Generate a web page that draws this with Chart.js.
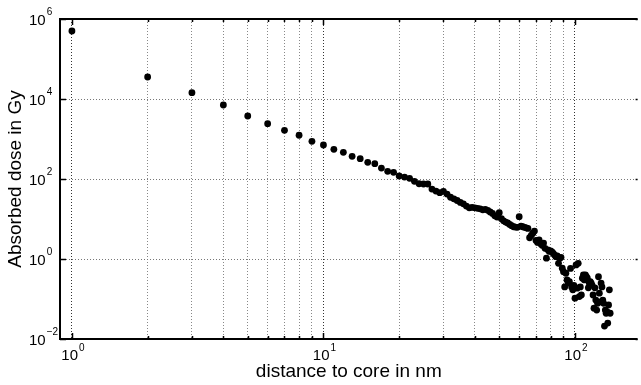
<!DOCTYPE html>
<html>
<head>
<meta charset="utf-8">
<script src="https://cdn.jsdelivr.net/npm/chart.js@4.4.0/dist/chart.umd.min.js"></script>
<style>
  html, body { margin: 0; padding: 0; background: #fff; overflow: hidden; }
  #wrap { width: 641px; height: 385px; }
</style>
</head>
<body>
<div id="wrap"><canvas id="chart" width="641" height="385"></canvas></div>
<script>
// distance to core (nm) and absorbed dose (Gy)
const distances = [
  1, 2, 3, 4, 5, 6, 7, 8, 9, 10,
  11, 12, 13, 14, 15, 16, 17, 18, 19, 20,
  21, 22, 23, 24, 25, 26, 27, 28, 29, 30,
  31, 32, 33, 34, 35, 36, 37, 38, 39, 40,
  41, 42, 43, 44, 45, 46, 47, 48, 49, 50,
  51, 52, 53, 54, 55, 56, 57, 58, 59, 60,
  61, 62, 63, 64, 65, 66, 67, 68, 69, 70,
  71, 72, 73, 74, 75, 76, 77, 78, 79, 80,
  81, 82, 83, 84, 85, 86, 87, 88, 89, 90,
  91, 92, 93, 94, 95, 96, 97, 98, 99, 100,
  101, 102, 103, 104, 105, 106, 107, 108, 109, 110,
  111, 112, 113, 114, 115, 116, 117, 118, 119, 120,
  121, 122, 123, 124, 125, 126, 127, 128, 129, 130,
  131, 132, 133, 134, 135, 136, 137, 138
];
const doses = [
  501000, 35500, 14400, 7080, 3760, 2410, 1650, 1240, 877, 708,
  552, 465, 369, 322, 261, 241, 188, 156, 147, 119,
  112, 104, 87.5, 76, 75, 75, 56, 50, 45.5, 49,
  42, 35, 32, 29, 26, 24, 21, 19, 19.5, 19,
  18.5, 18, 17, 17.5, 16.5, 15, 13.8, 12, 11.2, 14.4,
  10.2, 9, 8.4, 8, 7.3, 6.8, 6.4, 6.3, 6.2, 11.4,
  6.6, 6.4, 6.2, 6.0, 5.8, 3.4, 3.9, 4.4, 5.0, 2.9,
  2.6, 3.0, 2.4, 2.2, 2.5, 1.85, 1.05, 1.7, 1.55, 1.6,
  1.5, 1.38, 1.25, 1.14, 1.2, 0.78, 1.05, 1.1, 0.59, 0.48,
  0.2, 0.44, 0.3, 0.25, 0.27, 0.58, 0.2, 0.17, 0.22, 0.105,
  0.71, 0.186, 0.78, 0.115, 0.2, 0.126, 0.33, 0.4, 0.3, 0.4,
  0.36, 0.33, 0.19, 0.25, 0.27, 0.25, 0.22, 0.126, 0.059, 0.19,
  0.094, 0.053, 0.078, 0.36, 0.14, 0.085, 0.25, 0.2, 0.094, 0.078,
  0.021, 0.053, 0.044, 0.048, 0.025, 0.071, 0.17, 0.044
];
const xTicks = [1, 2, 3, 4, 5, 6, 7, 8, 9, 10, 20, 30, 40, 50, 60, 70, 80, 90, 100];
const xMajor = [1, 10, 100];
const xExponents = ['0', '1', '2'];
const yTicks = [1e-2, 1e0, 1e2, 1e4, 1e6];
const yExponents = ['\u22122', '0', '2', '4', '6'];
const xTitle = 'distance to core in nm';
const yTitle = 'Absorbed dose in Gy';

const FONT = '"Liberation Sans", Arial, Helvetica, sans-serif';

function drawPower(ctx, exp, x, baseY, align) {
  ctx.font = '15px ' + FONT;
  const bw = ctx.measureText('10').width;
  ctx.font = '10px ' + FONT;
  const ew = ctx.measureText(exp).width;
  let left = x;
  if (align === 'center') left = x - (bw + ew + 1) / 2;
  ctx.textAlign = 'left';
  ctx.textBaseline = 'alphabetic';
  ctx.font = '15px ' + FONT;
  ctx.fillText('10', left, baseY);
  ctx.font = '10px ' + FONT;
  ctx.fillText(exp, left + bw + 1, baseY - 9.5);
}

const axesDecor = {
  id: 'axesDecor',
  afterDraw(chart) {
    const ctx = chart.ctx;
    const area = chart.chartArea;
    const xs = chart.scales.x;
    const ys = chart.scales.y;
    ctx.save();
    ctx.strokeStyle = '#000';
    ctx.fillStyle = '#000';

    // inward ticks
    ctx.lineWidth = 1.5;
    xTicks.forEach((v) => {
      const px = Math.round(xs.getPixelForValue(v)) + 0.5;
      const len = xMajor.includes(v) ? 6 : 3;
      ctx.beginPath();
      ctx.moveTo(px, area.bottom);
      ctx.lineTo(px, area.bottom - len);
      ctx.moveTo(px, area.top);
      ctx.lineTo(px, area.top + len);
      ctx.stroke();
    });
    yTicks.forEach((v) => {
      const py = Math.round(ys.getPixelForValue(v)) + 0.5;
      ctx.beginPath();
      ctx.moveTo(area.left, py);
      ctx.lineTo(area.left + 6, py);
      ctx.moveTo(area.right, py);
      ctx.lineTo(area.right - 2, py);
      ctx.stroke();
    });

    // spines
    ctx.lineWidth = 2;
    ctx.beginPath();
    ctx.moveTo(area.right, area.top);
    ctx.lineTo(area.left, area.top);
    ctx.lineTo(area.left, area.bottom);
    ctx.lineTo(area.right, area.bottom);
    ctx.stroke();

    // tick labels
    xMajor.forEach((v, i) => {
      drawPower(ctx, xExponents[i], xs.getPixelForValue(v) + 1, 360, 'center');
    });
    yTicks.forEach((v, i) => {
      drawPower(ctx, yExponents[i], 29, ys.getPixelForValue(v) + 5.5, 'left');
    });

    // axis titles
    ctx.font = '19px ' + FONT;
    ctx.textAlign = 'center';
    ctx.textBaseline = 'alphabetic';
    ctx.fillText(xTitle, (area.left + area.right) / 2, 377);
    ctx.translate(21, (area.top + area.bottom) / 2);
    ctx.rotate(-Math.PI / 2);
    ctx.fillText(yTitle, 0, 0);
    ctx.restore();
  }
};

new Chart(document.getElementById('chart'), {
  type: 'scatter',
  data: {
    datasets: [{
      data: distances.map((d, i) => ({ x: d, y: doses[i] })),
      backgroundColor: '#000',
      borderWidth: 0,
      pointRadius: 3.4,
      pointHoverRadius: 3.4
    }]
  },
  options: {
    responsive: false,
    animation: false,
    devicePixelRatio: 1,
    layout: { padding: { left: 60, top: 19, right: 0, bottom: 46 } },
    plugins: { legend: { display: false }, tooltip: { enabled: false } },
    scales: {
      x: {
        type: 'logarithmic',
        min: 0.8966,
        max: 177.4,
        afterBuildTicks: (scale) => { scale.ticks = xTicks.map((v) => ({ value: v })); },
        afterFit: (scale) => { scale.height = 0; },
        ticks: { display: false },
        border: { display: false, dash: [1, 2] },
        grid: {
          drawTicks: false,
          lineWidth: 1,
          color: (c) => (c.tick && xMajor.includes(c.tick.value) ? '#333' : '#888')
        }
      },
      y: {
        type: 'logarithmic',
        min: 1e-2,
        max: 1e6,
        afterBuildTicks: (scale) => { scale.ticks = yTicks.map((v) => ({ value: v })); },
        afterFit: (scale) => { scale.width = 0; },
        ticks: { display: false },
        border: { display: false, dash: [1, 2] },
        grid: { drawTicks: false, lineWidth: 1, color: '#777' }
      }
    }
  },
  plugins: [axesDecor]
});
</script>
</body>
</html>
